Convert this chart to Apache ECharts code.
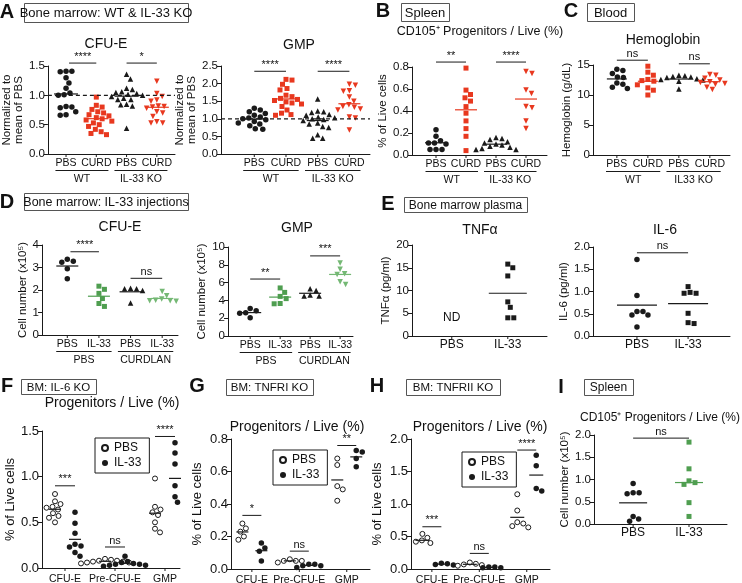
<!DOCTYPE html>
<html>
<head>
<meta charset="UTF-8">
<title>figure</title>
<script src="https://cdn.jsdelivr.net/npm/echarts@6/dist/echarts.min.js"></script>
<style>
*{margin:0;padding:0}
html,body{width:100%;height:100%;background:#fff}
#main{width:742px;height:583px}
</style>
</head>
<body>
<div id="main"></div>
<script>
// ---- data ----
var catPbsCurd = ['PBS', 'CURD', 'PBS', 'CURD'];
var catPbsIl33 = ['PBS', 'IL-33', 'PBS', 'IL-33'];
var catProg = ['CFU-E', 'Pre-CFU-E', 'GMP'];
var catTwo = ['PBS', 'IL-33'];

// A: bone marrow WT & IL-33 KO (normalized to mean of PBS)
var aCfueWtPbs = [1.41, 1.41, 1.40, 1.30, 1.21, 1.12, 1.04, 1.01, 1.00, 0.81, 0.80, 0.79, 0.72, 0.67, 0.66];
var aCfueWtCurd = [0.97, 0.83, 0.80, 0.76, 0.72, 0.70, 0.67, 0.65, 0.62, 0.60, 0.58, 0.56, 0.53, 0.50, 0.47, 0.42, 0.38, 0.35, 0.33];
var aCfueKoPbs = [1.36, 1.28, 1.12, 1.10, 1.06, 1.05, 1.03, 1.02, 1.00, 0.98, 0.95, 0.93, 0.93, 0.85, 0.84, 0.82, 0.44];
var aCfueKoCurd = [1.24, 1.03, 0.98, 0.92, 0.90, 0.82, 0.81, 0.80, 0.78, 0.72, 0.70, 0.64, 0.55, 0.53, 0.53];
var aGmpWtPbs = [1.30, 1.25, 1.20, 1.15, 1.10, 1.05, 1.02, 1.00, 0.97, 0.92, 0.88, 0.85, 0.80, 0.72, 0.70];
var aGmpWtCurd = [2.12, 2.10, 1.98, 1.86, 1.82, 1.67, 1.63, 1.58, 1.55, 1.52, 1.48, 1.45, 1.42, 1.35, 1.25, 1.16, 1.12, 1.10];
var aGmpKoPbs = [1.56, 1.22, 1.20, 1.18, 1.12, 1.10, 1.05, 1.03, 1.00, 0.98, 0.95, 0.88, 0.85, 0.78, 0.75, 0.55, 0.45, 0.45];
var aGmpKoCurd = [1.98, 1.95, 1.80, 1.78, 1.62, 1.50, 1.40, 1.35, 1.33, 1.28, 1.25, 1.05, 1.02, 0.68];

// B: spleen CD105+ progenitors / live (%)
var bWtPbs = [0.23, 0.17, 0.13, 0.11, 0.11, 0.10, 0.05, 0.05, 0.05];
var bWtCurd = [0.79, 0.59, 0.55, 0.52, 0.49, 0.44, 0.38, 0.31, 0.24, 0.17, 0.04];
var bKoPbs = [0.16, 0.15, 0.14, 0.12, 0.11, 0.10, 0.09, 0.08, 0.07, 0.06, 0.05, 0.05];
var bKoCurd = [0.76, 0.74, 0.59, 0.56, 0.44, 0.43, 0.31, 0.24];

// C: blood hemoglobin (g/dL)
var cWtPbs = [14.3, 14.1, 13.6, 13.0, 12.9, 12.0, 11.8, 11.3, 11.1];
var cWtCurd = [14.8, 13.8, 13.3, 12.6, 12.4, 12.3, 11.7, 11.2, 10.8, 10.0];
var cKoPbs = [13.3, 13.2, 13.1, 13.0, 12.9, 12.7, 12.6, 12.5, 12.3, 11.0];
var cKoCurd = [13.4, 13.3, 12.8, 12.5, 12.2, 12.1, 11.9, 11.8, 11.3, 10.9];

// D: IL-33 injections, cell number (x10^5)
var dCfuePbsPbs = [3.37, 3.28, 3.23, 2.95, 2.50];
var dCfuePbsIl33 = [2.17, 2.03, 1.85, 1.62, 1.40, 1.27];
var dCfueCurPbs = [2.08, 2.06, 2.06, 1.98, 1.42];
var dCfueCurIl33 = [1.93, 1.75, 1.60, 1.55, 1.52, 1.52, 1.50];
var dGmpPbsPbs = [3.08, 2.85, 2.62, 2.55, 2.05];
var dGmpPbsIl33 = [5.40, 4.90, 4.45, 4.20, 3.65, 3.62];
var dGmpCurPbs = [5.30, 5.10, 4.60, 4.50, 4.50];
var dGmpCurIl33 = [8.20, 7.50, 7.00, 6.90, 6.10, 5.80];

// E: bone marrow plasma
var eTnfIl33 = [15.8, 15.0, 13.2, 7.5, 6.3, 4.0, 4.0];
var eIl6Pbs = [1.72, 0.91, 0.55, 0.55, 0.47, 0.47, 0.20];
var eIl6Il33 = [1.11, 0.98, 0.96, 0.96, 0.51, 0.30, 0.28];

// F: IL-6 KO, progenitors / live (%)
var fCfuePbs = [0.81, 0.73, 0.70, 0.67, 0.66, 0.64, 0.60, 0.57, 0.55, 0.50];
var fCfueIl33 = [0.61, 0.49, 0.38, 0.26, 0.24, 0.23, 0.17, 0.13];
var fPrePbs = [0.10, 0.09, 0.08, 0.08, 0.07, 0.07, 0.06, 0.06, 0.05];
var fPreIl33 = [0.13, 0.07, 0.06, 0.05, 0.04, 0.04, 0.03, 0.03, 0.02];
var fGmpPbs = [0.98, 0.67, 0.64, 0.61, 0.58, 0.50, 0.43, 0.39];
var fGmpIl33 = [1.37, 1.26, 1.14, 0.90, 0.90, 0.78, 0.78, 0.72];

// G: TNFRI KO
var gCfuePbs = [0.28, 0.25, 0.23, 0.20, 0.18];
var gCfueIl33 = [0.16, 0.13, 0.11, 0.05];
var gPrePbs = [0.06, 0.05, 0.05, 0.05, 0.04];
var gPreIl33 = [0.03, 0.03, 0.02, 0.02, 0.01];
var gGmpPbs = [0.68, 0.64, 0.51, 0.49, 0.42];
var gGmpIl33 = [0.73, 0.72, 0.68, 0.63];

// H: TNFRII KO
var hCfuePbs = [0.54, 0.48, 0.44, 0.42, 0.40, 0.37];
var hCfueIl33 = [0.09, 0.08, 0.07, 0.06];
var hPrePbs = [0.10, 0.08, 0.07, 0.06, 0.05];
var hPreIl33 = [0.03, 0.03, 0.02, 0.02];
var hGmpPbs = [1.15, 0.90, 0.72, 0.70, 0.66, 0.64];
var hGmpIl33 = [1.75, 1.59, 1.24, 1.20];

// I: spleen cell number (x10^5)
var iPbs = [0.91, 0.70, 0.70, 0.68, 0.17, 0.11, 0.06];
var iIl33 = [1.84, 1.24, 0.97, 0.93, 0.89, 0.48, 0.17];

// ---- styling ----
var FONT = '"Liberation Sans", Arial, Helvetica, sans-serif';
var INK = '#1a1a1a';
var RED = '#e8381f';
var GREEN = '#4f9e50';
var LGREEN = '#74b874';

function S(x, v, sym, col, line, name) {
    return {x: x, v: v, sym: sym, col: col, line: line || col, name: name};
}

var plots = [
    {box: [44, 66, 131, 88], xr: [-0.6, 3.6], ymax: 1.5, step: 0.5, dec: 1,
     yName: 'Normalized to\nmean of PBS', gap: 22, title: ['CFU-E', 106, 44, 14],
     cats: catPbsCurd, groups: [[-0.35, 1.4, 'WT'], [1.6, 3.35, 'IL-33 KO']], ref: 1, half: 12,
     sets: [S(0, aCfueWtPbs, 'circle', INK), S(1, aCfueWtCurd, 'rect', RED), S(2, aCfueKoPbs, 'triangle', INK), S(3, aCfueKoCurd, 'down', RED)],
     sig: [[0.1, 1, 1.55, '****'], [2, 3, 1.55, '*']]},
    {box: [221, 66, 149, 88], xr: [-1.05, 3.65], ymax: 2.5, step: 0.5, dec: 1,
     yName: 'Normalized to\nmean of PBS', gap: 22, title: ['GMP', 299, 45, 14],
     cats: catPbsCurd, groups: [[-0.35, 1.4, 'WT'], [1.6, 3.35, 'IL-33 KO']], ref: 1, half: 11,
     sets: [S(0, aGmpWtPbs, 'circle', INK), S(1, aGmpWtCurd, 'rect', RED), S(2, aGmpKoPbs, 'triangle', INK), S(3, aGmpKoCurd, 'down', RED)],
     sig: [[0, 1, 2.35, '****'], [2, 3, 2.35, '****']]},
    {box: [412, 67, 135, 88], xr: [-0.8, 3.7], ymax: 0.8, step: 0.2, dec: 1,
     yName: '% of Live cells', gap: 20, title: ['CD105\u207a Progenitors / Live (%)', 480, 32, 12.5],
     cats: catPbsCurd, groups: [[-0.35, 1.4, 'WT'], [1.6, 3.35, 'IL-33 KO']], half: 11,
     sets: [S(0, bWtPbs, 'circle', INK), S(1, bWtCurd, 'rect', RED), S(2, bKoPbs, 'triangle', INK), S(3, bKoCurd, 'down', RED)],
     sig: [[0, 1, 0.845, '**'], [2, 3, 0.845, '****']]},
    {box: [593, 65, 137, 90], xr: [-0.77, 3.65], ymax: 15, step: 5, dec: 0,
     yName: 'Hemoglobin (g/dL)', gap: 16, title: ['Hemoglobin', 663, 40, 14],
     cats: catPbsCurd, groups: [[-0.35, 1.4, 'WT'], [1.6, 3.35, 'IL33 KO']], half: 10,
     sets: [S(0, cWtPbs, 'circle', INK), S(1, cWtCurd, 'rect', RED), S(2, cKoPbs, 'triangle', INK), S(3, cKoCurd, 'down', RED)],
     sig: [[0, 1, 15.8, 'ns'], [2, 3, 15.2, 'ns']]},
    {box: [42, 245, 136, 90], xr: [-0.8, 3.5], ymax: 4, step: 1, dec: 0,
     yName: 'Cell number (x10\u2075)', gap: 13, title: ['CFU-E', 120, 227, 14],
     cats: catPbsIl33, groups: [[-0.35, 1.4, 'PBS'], [1.6, 3.35, 'CURDLAN']], half: 11,
     sets: [S(0, dCfuePbsPbs, 'circle', INK), S(1, dCfuePbsIl33, 'rect', GREEN), S(2, dCfueCurPbs, 'triangle', INK), S(3, dCfueCurIl33, 'down', LGREEN)],
     sig: [[0.1, 1, 3.7, '****'], [2, 3, 2.52, 'ns']]},
    {box: [228, 247, 125, 89], xr: [-0.74, 3.43], ymax: 10, step: 2, dec: 0,
     yName: 'Cell number (x10\u2075)', gap: 15, title: ['GMP', 297, 228, 14],
     cats: catPbsIl33, groups: [[-0.35, 1.4, 'PBS'], [1.6, 3.35, 'CURDLAN']], half: 11,
     sets: [S(0, dGmpPbsPbs, 'circle', INK), S(1, dGmpPbsIl33, 'rect', GREEN), S(2, dGmpCurPbs, 'triangle', INK), S(3, dGmpCurIl33, 'down', LGREEN)],
     sig: [[0, 1, 6.4, '**'], [2, 3, 9.0, '***']]},
    {box: [412, 245, 135, 91], xr: [-0.71, 1.7], ymax: 20, step: 5, dec: 0,
     yName: 'TNF\u03b1 (pg/ml)', gap: 17, title: ['TNF\u03b1', 480, 230, 14],
     cats: catTwo, half: 19, notes: [[0, 4, 'ND']],
     sets: [S(1, eTnfIl33, 'rect', INK)]},
    {box: [593, 247, 137, 89], xr: [-0.86, 1.82], ymax: 2, step: 0.5, dec: 1,
     yName: 'IL-6 (pg/ml)', gap: 20, title: ['IL-6', 665, 230, 14],
     cats: catTwo, half: 20,
     sets: [S(0, eIl6Pbs, 'circle', INK), S(1, eIl6Il33, 'rect', INK)],
     sig: [[0, 1, 1.87, 'ns']]},
    {box: [42, 431, 138, 137], xr: [-0.46, 2.3], ymax: 1.5, step: 0.5, dec: 1, tfs: 13, nfs: 13,
     yName: '% of Live cells', gap: 17, title: ['Progenitors / Live (%)', 112, 403, 14],
     cats: catProg, half: 6, ly: 11, legend: [95, 438],
     sets: [S(-0.2, fCfuePbs, 'open', INK, INK, 'PBS'), S(0.2, fCfueIl33, 'circle', INK, INK, 'IL-33'),
            S(0.8, fPrePbs, 'open', INK, INK, 'PBS'), S(1.2, fPreIl33, 'circle', INK, INK, 'IL-33'),
            S(1.8, fGmpPbs, 'open', INK, INK, 'PBS'), S(2.2, fGmpIl33, 'circle', INK, INK, 'IL-33')],
     sig: [[-0.2, 0.2, 0.9, '***'], [0.8, 1.2, 0.23, 'ns'], [1.8, 2.2, 1.44, '****']]},
    {box: [231, 439, 139, 130], xr: [-0.44, 2.49], ymax: 0.8, step: 0.2, dec: 1, tfs: 13, nfs: 13,
     yName: '% of Live cells', gap: 28, title: ['Progenitors / Live (%)', 297, 427, 14],
     cats: catProg, half: 6, ly: 11, legend: [273, 450],
     sets: [S(-0.2, gCfuePbs, 'open', INK, INK, 'PBS'), S(0.2, gCfueIl33, 'circle', INK, INK, 'IL-33'),
            S(0.8, gPrePbs, 'open', INK, INK, 'PBS'), S(1.2, gPreIl33, 'circle', INK, INK, 'IL-33'),
            S(1.8, gGmpPbs, 'open', INK, INK, 'PBS'), S(2.2, gGmpIl33, 'circle', INK, INK, 'IL-33')],
     sig: [[-0.2, 0.2, 0.33, '*'], [0.8, 1.2, 0.11, 'ns'], [1.8, 2.2, 0.76, '**']]},
    {box: [411, 439, 139, 130], xr: [-0.44, 2.49], ymax: 2, step: 0.5, dec: 1, tfs: 13, nfs: 13,
     yName: '% of Live cells', gap: 28, title: ['Progenitors / Live (%)', 480, 427, 14],
     cats: catProg, half: 7, ly: 11, legend: [462, 452],
     sets: [S(-0.2, hCfuePbs, 'open', INK, INK, 'PBS'), S(0.2, hCfueIl33, 'circle', INK, INK, 'IL-33'),
            S(0.8, hPrePbs, 'open', INK, INK, 'PBS'), S(1.2, hPreIl33, 'circle', INK, INK, 'IL-33'),
            S(1.8, hGmpPbs, 'open', INK, INK, 'PBS'), S(2.2, hGmpIl33, 'circle', INK, INK, 'IL-33')],
     sig: [[-0.2, 0.2, 0.65, '***'], [0.8, 1.2, 0.24, 'ns'], [1.8, 2.2, 1.83, '****']]},
    {box: [594, 435, 133, 89], xr: [-0.7, 1.68], ymax: 2, step: 0.5, dec: 1,
     yName: 'Cell number (x10\u2075)', gap: 21, title: ['CD105\u207a Progenitors / Live (%)', 660, 418, 12],
     cats: catTwo, half: 14,
     sets: [S(0, iPbs, 'circle', INK), S(1, iIl33, 'rect', GREEN)],
     sig: [[0, 1, 1.93, 'ns']]}
];

// panel letters and boxed headers
var letters = [['A', 7, 12], ['B', 383, 11], ['C', 571, 11], ['D', 7, 202], ['E', 388, 204],
               ['F', 7, 386], ['G', 197, 386], ['H', 377, 386], ['I', 561, 387]];
var headers = [[24, 3, 164, 19, 'Bone marrow: WT & IL-33 KO', 13], [401, 3, 48, 18, 'Spleen', 13],
               [587, 3, 47, 18, 'Blood', 13], [24, 193, 164, 17, 'Bone marrow: IL-33 injections', 12.5],
               [404, 197, 123, 15, 'Bone marrow plasma', 12], [21, 379, 75, 15, 'BM: IL-6 KO', 11.5],
               [226, 379, 87, 16, 'BM: TNFRI KO', 11.5], [406, 379, 94, 16, 'BM: TNFRII KO', 11.5],
               [584, 379, 49, 16, 'Spleen', 12]];

function mean(a) {
    var s = 0;
    a.forEach(function (v) { s += v; });
    return s / a.length;
}

// beeswarm: nudge points sideways (in px) until they no longer overlap
function swarm(vals, cx, kx, ky, d) {
    var placed = [], out = [];
    vals.slice().sort(function (a, b) { return b - a; }).forEach(function (v) {
        var py = v * ky, off = 0;
        for (var k = 0; k < 400; k++) {
            off = k === 0 ? 0 : (k % 2 ? (k + 1) / 2 : -k / 2) * 0.5;
            var ok = placed.every(function (p) {
                var dx = p[0] - off, dy = p[1] - py;
                return dx * dx + dy * dy >= d * d;
            });
            if (ok) break;
        }
        placed.push([off, py]);
        out.push([cx + off / kx, v]);
    });
    return out;
}

var grids = [], xAxes = [], yAxes = [], series = [], legends = [], graphics = [];

plots.forEach(function (p, i) {
    var b = p.box;
    grids.push({left: b[0], top: b[1], width: b[2], height: b[3]});
    xAxes.push({gridIndex: i, type: 'value', min: p.xr[0], max: p.xr[1],
        axisLine: {show: true, onZero: false, lineStyle: {color: INK, width: 1}},
        axisTick: {show: false}, axisLabel: {show: false}, splitLine: {show: false}});
    yAxes.push({gridIndex: i, type: 'value', min: 0, max: p.ymax, interval: p.step,
        axisLine: {show: true, onZero: false, lineStyle: {color: INK, width: 1}},
        axisTick: {show: true, length: 4, lineStyle: {color: INK}},
        axisLabel: {fontSize: p.tfs || 11.5, color: '#111', margin: 3, fontFamily: FONT,
            formatter: function (v) { return v.toFixed(p.dec); }},
        splitLine: {show: false},
        name: p.yName, nameLocation: 'middle', nameRotate: 90, nameGap: p.gap,
        nameTextStyle: {fontSize: p.nfs || 11.5, color: '#111', lineHeight: 12, fontFamily: FONT}});

    var kx = b[2] / (p.xr[1] - p.xr[0]), ky = b[3] / p.ymax;
    p.sets.forEach(function (s, j) {
        var open = s.sym === 'open';
        series.push({type: 'scatter', name: s.name || ('s' + i + '_' + j), xAxisIndex: i, yAxisIndex: i,
            symbol: s.sym === 'down' ? 'triangle' : (open ? 'circle' : s.sym),
            symbolRotate: s.sym === 'down' ? 180 : 0,
            symbolSize: s.sym === 'rect' ? 5 : (open ? 5 : 5.5),
            itemStyle: {color: open ? '#fff' : s.col, borderColor: s.col, borderWidth: open ? 1 : 0, opacity: 1},
            data: swarm(s.v, s.x, kx, ky, 6), z: 3, silent: true, animation: false});
    });

    // group mean lines
    series.push({type: 'custom', xAxisIndex: i, yAxisIndex: i, clip: false, silent: true, z: 4,
        data: p.sets.map(function (s) { return [s.x, mean(s.v)]; }),
        renderItem: function (params, api) {
            var s = p.sets[params.dataIndex];
            var c = api.coord([api.value(0), api.value(1)]);
            return {type: 'line', shape: {x1: c[0] - p.half, y1: c[1], x2: c[0] + p.half, y2: c[1]},
                style: {stroke: s.line, lineWidth: 1.2}};
        }});

    // category ticks and labels
    series.push({type: 'custom', xAxisIndex: i, yAxisIndex: i, clip: false, silent: true,
        data: p.cats.map(function (c, k) { return [k, 0]; }),
        renderItem: function (params, api) {
            var c = api.coord([api.value(0), 0]);
            return {type: 'group', children: [
                {type: 'line', shape: {x1: c[0], y1: c[1], x2: c[0], y2: c[1] + 3}, style: {stroke: INK, lineWidth: 1}},
                {type: 'text', style: {text: p.cats[params.dataIndex], x: c[0], y: c[1] + (p.ly || 9),
                    textAlign: 'center', textVerticalAlign: 'middle', font: (p.cats.length === 2 ? 12 : 10.5) + 'px ' + FONT, fill: '#111'}}
            ]};
        }});

    // second label tier with underline
    if (p.groups) {
        series.push({type: 'custom', xAxisIndex: i, yAxisIndex: i, clip: false, silent: true,
            data: p.groups.map(function (g) { return [g[0], g[1]]; }),
            renderItem: function (params, api) {
                var g = p.groups[params.dataIndex];
                var a = api.coord([g[0], 0]), e = api.coord([g[1], 0]);
                return {type: 'group', children: [
                    {type: 'line', shape: {x1: a[0], y1: a[1] + 16.5, x2: e[0], y2: e[1] + 16.5}, style: {stroke: INK, lineWidth: 1}},
                    {type: 'text', style: {text: g[2], x: (a[0] + e[0]) / 2, y: a[1] + 25.5,
                        textAlign: 'center', textVerticalAlign: 'middle', font: '10.5px ' + FONT, fill: '#111'}}
                ]};
            }});
    }

    // significance bars
    if (p.sig) {
        series.push({type: 'custom', xAxisIndex: i, yAxisIndex: i, clip: false, silent: true,
            data: p.sig.map(function (g) { return [g[0], g[2]]; }),
            renderItem: function (params, api) {
                var g = p.sig[params.dataIndex];
                var a = api.coord([g[0], g[2]]), e = api.coord([g[1], g[2]]);
                return {type: 'group', children: [
                    {type: 'line', shape: {x1: a[0], y1: a[1], x2: e[0], y2: e[1]}, style: {stroke: INK, lineWidth: 1}},
                    {type: 'text', style: {text: g[3], x: (a[0] + e[0]) / 2, y: a[1] - 1,
                        textAlign: 'center', textVerticalAlign: 'bottom', font: '11px ' + FONT, fill: '#111'}}
                ]};
            }});
    }

    // dashed reference line
    if (p.ref) {
        series.push({type: 'custom', xAxisIndex: i, yAxisIndex: i, clip: false, silent: true, z: 5,
            data: [[p.xr[0], p.ref]],
            renderItem: function (params, api) {
                var a = api.coord([p.xr[0], p.ref]), e = api.coord([p.xr[1], p.ref]);
                return {type: 'line', shape: {x1: a[0], y1: a[1], x2: e[0], y2: e[1]},
                    style: {stroke: INK, lineWidth: 1.2, lineDash: [4, 3]}};
            }});
    }

    if (p.notes) {
        series.push({type: 'custom', xAxisIndex: i, yAxisIndex: i, clip: false, silent: true,
            data: p.notes.map(function (n) { return [n[0], n[1]]; }),
            renderItem: function (params, api) {
                var n = p.notes[params.dataIndex];
                var c = api.coord([n[0], n[1]]);
                return {type: 'text', style: {text: n[2], x: c[0], y: c[1], textAlign: 'center',
                    textVerticalAlign: 'middle', font: '12px ' + FONT, fill: '#111'}};
            }});
    }

    if (p.legend) {
        legends.push({left: p.legend[0], top: p.legend[1], orient: 'vertical', data: ['PBS', 'IL-33'],
            borderColor: INK, borderWidth: 1, borderRadius: 0, padding: [4, 8, 4, 6], itemGap: 3,
            itemWidth: 8, itemHeight: 6, selectedMode: false,
            textStyle: {fontSize: 12, color: '#111', fontFamily: FONT}});
    }

    graphics.push({type: 'text', x: p.title[1], y: p.title[2],
        style: {text: p.title[0], textAlign: 'center', textVerticalAlign: 'middle',
            font: p.title[3] + 'px ' + FONT, fill: '#111'}});
});

letters.forEach(function (l) {
    graphics.push({type: 'text', x: l[1], y: l[2],
        style: {text: l[0], textAlign: 'center', textVerticalAlign: 'middle', font: 'bold 20px ' + FONT, fill: '#111'}});
});
headers.forEach(function (h) {
    graphics.push({type: 'rect', shape: {x: h[0] + 0.5, y: h[1] + 0.5, width: h[2], height: h[3]},
        style: {fill: '#fff', stroke: '#555', lineWidth: 1}});
    graphics.push({type: 'text', x: h[0] + h[2] / 2, y: h[1] + h[3] / 2 + 1,
        style: {text: h[4], textAlign: 'center', textVerticalAlign: 'middle', font: h[5] + 'px ' + FONT, fill: '#111'}});
});

var myChart = echarts.init(document.getElementById('main'));
myChart.setOption({
    animation: false,
    backgroundColor: '#fff',
    textStyle: {fontFamily: FONT},
    grid: grids,
    xAxis: xAxes,
    yAxis: yAxes,
    legend: legends,
    graphic: graphics,
    series: series
});
</script>
</body>
</html>
